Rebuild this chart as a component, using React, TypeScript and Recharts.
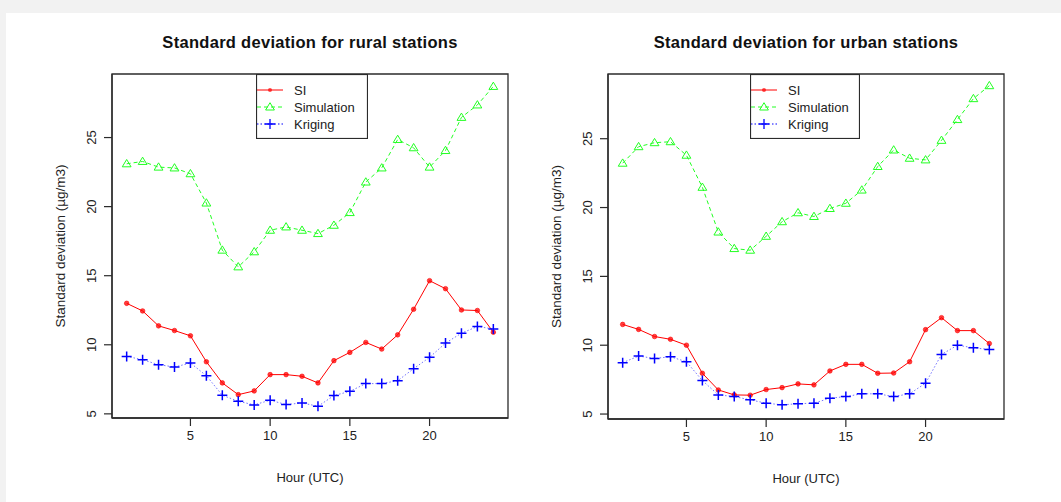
import React from "react";
import { LineChart, Line, XAxis, YAxis, Legend, Label, ReferenceArea } from "recharts";

const hours = [1, 2, 3, 4, 5, 6, 7, 8, 9, 10, 11, 12, 13, 14, 15, 16, 17, 18, 19, 20, 21, 22, 23, 24];

const ruralSI = [13.0, 12.45, 11.37, 11.03, 10.65, 8.77, 7.24, 6.39, 6.66, 7.84, 7.84, 7.72, 7.24, 8.85, 9.45, 10.17, 9.69, 10.72, 12.57, 14.64, 14.06, 12.52, 12.48, 10.91];
const ruralSim = [23.1, 23.27, 22.86, 22.8, 22.38, 20.26, 16.85, 15.64, 16.73, 18.29, 18.53, 18.29, 18.05, 18.65, 19.57, 21.78, 22.8, 24.86, 24.26, 22.86, 24.06, 26.46, 27.36, 28.7];
const ruralKrig = [9.16, 8.92, 8.56, 8.39, 8.68, 7.76, 6.35, 5.91, 5.65, 5.99, 5.67, 5.79, 5.55, 6.32, 6.63, 7.19, 7.19, 7.4, 8.27, 9.09, 10.12, 10.84, 11.32, 11.15];

const urbanSI = [11.51, 11.15, 10.63, 10.43, 10.0, 7.96, 6.75, 6.39, 6.37, 6.78, 6.92, 7.19, 7.12, 8.13, 8.61, 8.61, 7.96, 7.98, 8.8, 11.13, 12.0, 11.06, 11.06, 10.12];
const urbanSim = [23.22, 24.42, 24.71, 24.78, 23.8, 21.47, 18.22, 17.02, 16.9, 17.91, 18.97, 19.62, 19.35, 19.93, 20.31, 21.27, 22.98, 24.18, 23.58, 23.46, 24.88, 26.39, 27.91, 28.85];
const urbanKrig = [8.73, 9.21, 9.04, 9.16, 8.8, 7.43, 6.39, 6.27, 6.03, 5.79, 5.67, 5.75, 5.79, 6.15, 6.27, 6.47, 6.47, 6.27, 6.47, 7.24, 9.33, 10.0, 9.81, 9.69];

const xTicks = [5, 10, 15, 20];
const yTicks = [5, 10, 15, 20, 25];
const xDomain: [number, number] = [0.08, 24.92];
const seriesNames = ["SI", "Simulation", "Kriging"];

const FONT = "'Liberation Sans', Arial, sans-serif";
const BOX = "#2b2b2b";
const RED = "#ff0000";
const GREEN = "#22ff22";
const BLUE = "#0000ff";

const build = (si: number[], sim: number[], krig: number[]) =>
  hours.map((h, i) => ({ hour: h, si: si[i], sim: sim[i], krig: krig[i] }));

const Circle = (p: any) => {
  if (p.cx == null) return null;
  return <circle cx={p.cx} cy={p.cy} r={2.3} fill={RED} fillOpacity={0.75} stroke={RED} strokeWidth={0.6} />;
};

const Triangle = (p: any) => {
  if (p.cx == null) return null;
  const { cx, cy } = p;
  return (
    <path
      d={`M${cx},${cy - 4.3} L${cx + 4.4},${cy + 3} L${cx - 4.4},${cy + 3} Z`}
      fill="none"
      stroke={GREEN}
      strokeWidth={1}
    />
  );
};

const Plus = (p: any) => {
  if (p.cx == null) return null;
  const { cx, cy } = p;
  return (
    <path d={`M${cx - 5},${cy} H${cx + 5} M${cx},${cy - 5} V${cy + 5}`} stroke={BLUE} strokeWidth={1.5} fill="none" />
  );
};

const YTick = ({ x, y, payload }: any) => (
  <text
    x={x - 6}
    y={y}
    transform={`rotate(-90 ${x - 6} ${y})`}
    textAnchor="middle"
    fontSize={13}
    fontFamily={FONT}
    fill="#222"
  >
    {payload.value}
  </text>
);

const XTick = ({ x, y, payload }: any) => (
  <text x={x} y={y + 12} textAnchor="middle" fontSize={13} fontFamily={FONT} fill="#222">
    {payload.value}
  </text>
);

const LegendBox = ({ width }: { width: number }) => {
  const markers = [
    <circle key="c" cx={14} cy={0} r={2} fill={RED} fillOpacity={0.7} />,
    <path key="t" d="M14,-4.3 L18.4,3 L9.6,3 Z" fill="none" stroke={GREEN} />,
    <path key="p" d="M9,0 H19 M14,-5 V5" stroke={BLUE} strokeWidth={1.3} />,
  ];
  const colors = [RED, GREEN, BLUE];
  const dashes = [undefined, "4 3", "1.5 2"];
  return (
    <svg width={width} height={65} style={{ display: "block" }}>
      <rect x={0.5} y={0.5} width={width - 1} height={64} fill="#fff" stroke={BOX} strokeWidth={1.2} />
      {seriesNames.map((n, i) => (
        <g key={n} transform={`translate(0 ${16 + i * 17})`}>
          <line x1={1} x2={27} y1={0} y2={0} stroke={colors[i]} strokeDasharray={dashes[i]} />
          {markers[i]}
          <text x={38} y={4.5} fontSize={13} fontFamily={FONT} fill="#222">
            {n}
          </text>
        </g>
      ))}
    </svg>
  );
};

type PanelProps = {
  title: string;
  data: { hour: number; si: number; sim: number; krig: number }[];
  yDomain: [number, number];
  left: number;
  legendLeft: number;
  legendWidth: number;
  xHeight: number;
};

function Panel({ title, data, yDomain, left, legendLeft, legendWidth, xHeight }: PanelProps) {
  return (
    <div style={{ position: "absolute", left, top: 0, width: 530, height: 502 }}>
      <div
        style={{
          position: "absolute",
          left: 112,
          width: 396,
          top: 33,
          textAlign: "center",
          fontFamily: FONT,
          fontWeight: "bold",
          fontSize: 16.5,
          letterSpacing: 0.3,
          color: "#111",
        }}
      >
        {title}
      </div>
      <LineChart width={530} height={502} data={data} margin={{ top: 74, right: 22, bottom: 0, left: 40 }}>
        <XAxis
          dataKey="hour"
          type="number"
          domain={xDomain}
          ticks={xTicks}
          allowDataOverflow
          height={xHeight}
          tickSize={8}
          tickLine={{ stroke: BOX, strokeWidth: 1.2 }}
          axisLine={{ stroke: BOX, strokeWidth: 1.3 }}
          tick={<XTick />}
        >
          <Label
            content={({ viewBox }: any) => (
              <text
                x={viewBox.x + viewBox.width / 2}
                y={viewBox.y + 64}
                textAnchor="middle"
                fontSize={13}
                fontFamily={FONT}
                fill="#222"
              >
                Hour (UTC)
              </text>
            )}
          />
        </XAxis>
        <YAxis
          type="number"
          domain={yDomain}
          ticks={yTicks}
          allowDataOverflow
          width={72}
          tickSize={8}
          tickLine={{ stroke: BOX, strokeWidth: 1.2 }}
          axisLine={{ stroke: BOX, strokeWidth: 1.3 }}
          tick={<YTick />}
        >
          <Label
            content={({ viewBox }: any) => {
              const x = viewBox.x + 24.5;
              const y = viewBox.y + viewBox.height / 2;
              return (
                <text
                  x={x}
                  y={y}
                  transform={`rotate(-90 ${x} ${y})`}
                  textAnchor="middle"
                  fontSize={13.5}
                  fontFamily={FONT}
                  fill="#222"
                >
                  Standard deviation (µg/m3)
                </text>
              );
            }}
          />
        </YAxis>
        <ReferenceArea
          x1={xDomain[0]}
          x2={xDomain[1]}
          y1={yDomain[0]}
          y2={yDomain[1]}
          fill="none"
          stroke={BOX}
          strokeWidth={1.3}
          ifOverflow="visible"
        />
        <Legend
          layout="vertical"
          align="center"
          verticalAlign="middle"
          wrapperStyle={{ left: legendLeft, top: 74, width: legendWidth, height: 65 }}
          content={() => <LegendBox width={legendWidth} />}
        />
        <Line
          dataKey="si"
          name="SI"
          stroke={RED}
          strokeWidth={1}
          dot={<Circle />}
          activeDot={false}
          isAnimationActive={false}
        />
        <Line
          dataKey="sim"
          name="Simulation"
          stroke={GREEN}
          strokeWidth={1}
          strokeDasharray="4 3"
          dot={<Triangle />}
          activeDot={false}
          isAnimationActive={false}
        />
        <Line
          dataKey="krig"
          name="Kriging"
          stroke={BLUE}
          strokeOpacity={0.55}
          strokeWidth={1}
          strokeDasharray="1.5 2"
          dot={<Plus />}
          activeDot={false}
          isAnimationActive={false}
        />
      </LineChart>
    </div>
  );
}

export default function App() {
  return (
    <div style={{ position: "fixed", left: 0, top: 0, width: 1061, height: 502, background: "#f2f2f2", overflow: "hidden" }}>
      <div style={{ position: "absolute", left: 6, top: 13, width: 1055, height: 489, background: "#fff" }} />
      <Panel
        title="Standard deviation for rural stations"
        data={build(ruralSI, ruralSim, ruralKrig)}
        yDomain={[4.7, 29.6]}
        left={0}
        legendLeft={256}
        legendWidth={112}
        xHeight={84}
      />
      <Panel
        title="Standard deviation for urban stations"
        data={build(urbanSI, urbanSim, urbanKrig)}
        yDomain={[4.64, 29.7]}
        left={496}
        legendLeft={254}
        legendWidth={110}
        xHeight={83}
      />
    </div>
  );
}
